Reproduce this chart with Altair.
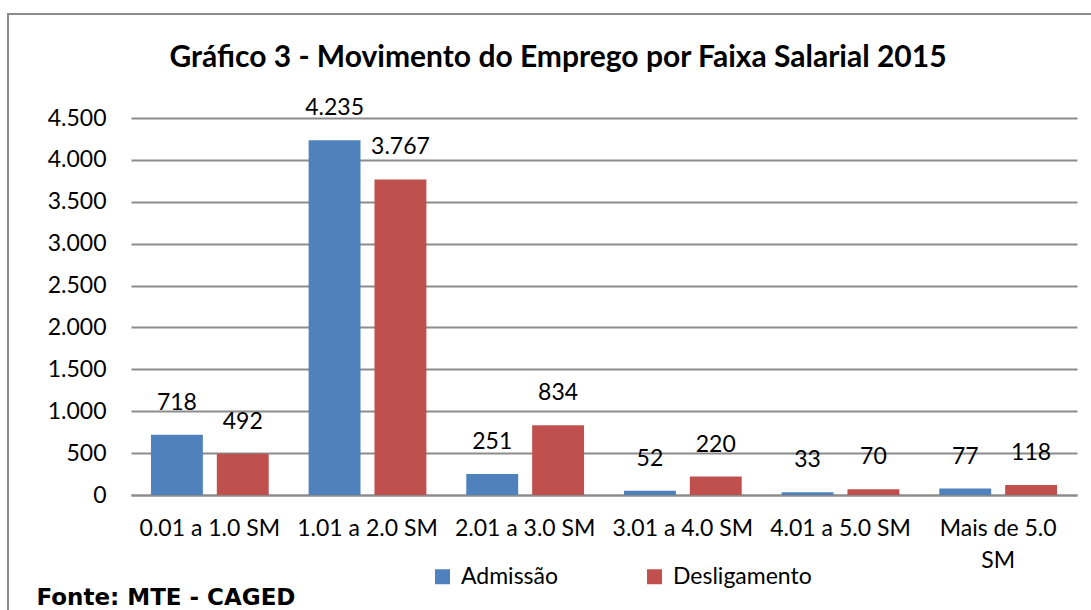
import altair as alt
import pandas as pd

categories = ["0.01 a 1.0 SM", "1.01 a 2.0  SM", "2.01 a 3.0 SM",
              "3.01 a 4.0 SM", "4.01 a 5.0 SM", "Mais de 5.0 SM"]
series = ["Admissão", "Desligamento"]
admissao = [718, 4235, 251, 52, 33, 77]
desligamento = [492, 3767, 834, 220, 70, 118]
y_ticks = [0, 500, 1000, 1500, 2000, 2500, 3000, 3500, 4000, 4500]
colors = ["#4F81BD", "#C0504D"]
title_text = "Gráfico 3 - Movimento do Emprego por Faixa Salarial 2015"
source_text = "Fonte: MTE - CAGED"

rows = []
for c, a, d in zip(categories, admissao, desligamento):
    rows.append({"faixa": c, "serie": series[0], "valor": a})
    rows.append({"faixa": c, "serie": series[1], "valor": d})
df = pd.DataFrame(rows)

FONT = "Lato"
GRAY = "#8C8C8C"

x_enc = alt.X("faixa:N", sort=categories,
              scale=alt.Scale(paddingInner=0, paddingOuter=0),
              axis=alt.Axis(title=source_text, labelAngle=0, grid=False,
                            labelFont=FONT, labelFontSize=23, labelColor="#000000",
                            labelPadding=22, labelLineHeight=32,
                            labelExpr="datum.label == 'Mais de 5.0 SM' ? ['Mais de 5.0', 'SM'] : datum.label",
                            ticks=False, domain=True, domainColor=GRAY, domainWidth=2,
                            titleFont="DejaVu Sans", titleFontSize=23, titleFontWeight="bold",
                            titleColor="#000000", titleAnchor="start", titleAlign="left",
                            titleBaseline="alphabetic", titleX=-95, titleY=109,
                            labelLimit=400))
xo_enc = alt.XOffset("serie:N", sort=series,
                     scale=alt.Scale(paddingInner=0.212, paddingOuter=0.303))
y_enc = alt.Y("valor:Q", scale=alt.Scale(domain=[0, 4500], nice=False),
              axis=alt.Axis(title=None, values=y_ticks,
                            labelExpr="replace(format(datum.value, ','), ',', '.')",
                            labelFont=FONT, labelFontSize=23, labelColor="#000000",
                            labelPadding=25, ticks=False, domain=False,
                            grid=True, gridColor=GRAY, gridWidth=2))

frame = alt.Chart(alt.Data(values=[{"k": 1}])).mark_rect(
    fillOpacity=0, stroke=GRAY, strokeWidth=2
).encode(x=alt.value(-123), y=alt.value(-104), x2=alt.value(990), y2=alt.value(520))

title = alt.Chart(alt.Data(values=[{"t": title_text}])).mark_text(
    font=FONT, fontSize=30, fontWeight="bold", color="#000000",
    align="center", baseline="alphabetic"
).encode(text="t:N", x=alt.value(427), y=alt.value(-51))

bars = alt.Chart(df).mark_bar().encode(
    x=x_enc, xOffset=xo_enc, y=y_enc,
    color=alt.Color("serie:N", sort=series,
                    scale=alt.Scale(domain=series, range=colors),
                    legend=alt.Legend(title=None, orient="none", direction="horizontal",
                                      legendX=300, legendY=447,
                                      symbolType="square", symbolSize=225,
                                      symbolStrokeWidth=0, labelOffset=7,
                                      labelFont=FONT, labelFontSize=23,
                                      labelColor="#000000", columnPadding=84))
)

labels = alt.Chart(df).transform_calculate(
    rotulo="replace(format(datum.valor, ','), ',', '.')"
).mark_text(font=FONT, fontSize=23, color="#000000", baseline="middle",
            align="center", dy=-32).encode(
    x=alt.X("faixa:N", sort=categories),
    xOffset=alt.XOffset("serie:N", sort=series),
    y=alt.Y("valor:Q"),
    text="rotulo:N"
)

chart = alt.layer(frame, title, bars, labels).properties(
    width=946, height=377,
    autosize=alt.AutoSizeParams(type="none"),
    padding={"left": 131, "top": 118, "right": 14, "bottom": 115}
).configure(background="white").configure_view(stroke=None)

chart.save("out.html", embed_options={"renderer": "svg", "actions": False})
